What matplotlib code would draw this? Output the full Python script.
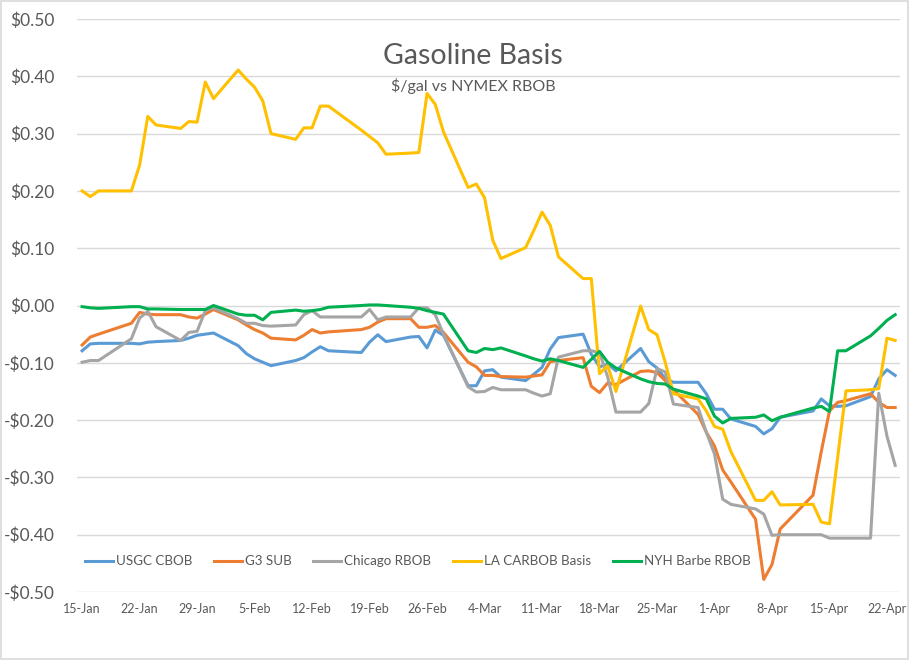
import matplotlib
matplotlib.use("Agg")
import matplotlib.pyplot as plt
from matplotlib.patches import Rectangle
import pandas as pd

plt.rcParams['font.family'] = ['Lato', 'DejaVu Sans']

# trading days, 2020
dates = pd.to_datetime([
    "2020-01-15", "2020-01-16", "2020-01-17", "2020-01-21", "2020-01-22", "2020-01-23",
    "2020-01-24", "2020-01-27", "2020-01-28", "2020-01-29", "2020-01-30", "2020-01-31",
    "2020-02-03", "2020-02-04", "2020-02-05", "2020-02-06", "2020-02-07", "2020-02-10",
    "2020-02-11", "2020-02-12", "2020-02-13", "2020-02-14", "2020-02-18", "2020-02-19",
    "2020-02-20", "2020-02-21", "2020-02-24", "2020-02-25", "2020-02-26", "2020-02-27",
    "2020-02-28", "2020-03-02", "2020-03-03", "2020-03-04", "2020-03-05", "2020-03-06",
    "2020-03-09", "2020-03-10", "2020-03-11", "2020-03-12", "2020-03-13", "2020-03-16",
    "2020-03-17", "2020-03-18", "2020-03-19", "2020-03-20", "2020-03-23", "2020-03-24",
    "2020-03-25", "2020-03-26", "2020-03-27", "2020-03-30", "2020-03-31", "2020-04-01",
    "2020-04-02", "2020-04-03", "2020-04-06", "2020-04-07", "2020-04-08", "2020-04-09",
    "2020-04-13", "2020-04-14", "2020-04-15", "2020-04-16", "2020-04-17", "2020-04-20",
    "2020-04-21", "2020-04-22", "2020-04-23",
])

usgc_cbob = [
    -0.079, -0.067, -0.066, -0.066, -0.067, -0.064, -0.063, -0.061, -0.057, -0.052, -0.050, -0.048,
    -0.070, -0.084, -0.093, -0.099, -0.105, -0.096, -0.091, -0.081, -0.072, -0.079, -0.082, -0.064,
    -0.051, -0.063, -0.055, -0.054, -0.074, -0.043, -0.052, -0.140, -0.140, -0.114, -0.112, -0.125,
    -0.131, -0.120, -0.108, -0.076, -0.056, -0.050, -0.085, -0.107, -0.102, -0.114, -0.075, -0.098,
    -0.109, -0.128, -0.134, -0.134, -0.154, -0.181, -0.181, -0.198, -0.211, -0.224, -0.215, -0.195,
    -0.184, -0.163, -0.175, -0.176, -0.175, -0.159, -0.128, -0.112, -0.122,
]
g3_sub = [
    -0.069, -0.055, -0.050, -0.031, -0.012, -0.015, -0.016, -0.016, -0.020, -0.022, -0.015, -0.007,
    -0.025, -0.034, -0.042, -0.048, -0.057, -0.060, -0.052, -0.042, -0.048, -0.046, -0.042, -0.038,
    -0.029, -0.023, -0.023, -0.038, -0.038, -0.035, -0.047, -0.099, -0.107, -0.122, -0.122, -0.124,
    -0.125, -0.123, -0.121, -0.098, -0.096, -0.091, -0.141, -0.152, -0.135, -0.138, -0.115, -0.114,
    -0.117, -0.131, -0.147, -0.190, -0.221, -0.245, -0.287, -0.308, -0.373, -0.478, -0.452, -0.390,
    -0.331, -0.255, -0.184, -0.169, -0.166, -0.154, -0.169, -0.178, -0.178,
]
chicago_rbob = [
    -0.099, -0.096, -0.096, -0.058, -0.022, -0.010, -0.037, -0.061, -0.047, -0.045, -0.009, -0.004,
    -0.023, -0.031, -0.031, -0.035, -0.036, -0.034, -0.016, -0.009, -0.020, -0.020, -0.020, -0.007,
    -0.025, -0.020, -0.020, -0.004, -0.004, -0.016, -0.050, -0.142, -0.151, -0.150, -0.143, -0.147,
    -0.147, -0.153, -0.158, -0.154, -0.090, -0.079, -0.079, -0.082, -0.125, -0.186, -0.186, -0.171,
    -0.110, -0.116, -0.172, -0.178, -0.221, -0.259, -0.338, -0.347, -0.355, -0.364, -0.401, -0.400,
    -0.400, -0.400, -0.406, -0.406, -0.406, -0.406, -0.153, -0.228, -0.279,
]
la_carbob = [
    0.200, 0.190, 0.200, 0.200, 0.245, 0.330, 0.315, 0.309, 0.321, 0.320, 0.390, 0.361,
    0.411, 0.395, 0.381, 0.357, 0.300, 0.290, 0.310, 0.310, 0.348, 0.348, 0.306, 0.295,
    0.284, 0.264, 0.266, 0.267, 0.370, 0.351, 0.303, 0.206, 0.212, 0.188, 0.114, 0.082,
    0.101, 0.131, 0.163, 0.140, 0.085, 0.047, 0.047, -0.119, -0.105, -0.150, -0.001, -0.042,
    -0.051, -0.099, -0.154, -0.163, -0.184, -0.211, -0.216, -0.255, -0.340, -0.340, -0.325, -0.348,
    -0.347, -0.378, -0.381, -0.265, -0.149, -0.147, -0.145, -0.057, -0.061,
]
nyh_barbe = [
    -0.002, -0.004, -0.005, -0.002, -0.002, -0.006, -0.006, -0.007, -0.007, -0.007, -0.007, 0.000,
    -0.015, -0.017, -0.017, -0.025, -0.012, -0.008, -0.010, -0.009, -0.007, -0.003, 0.000, 0.001,
    0.001, 0.000, -0.003, -0.005, -0.009, -0.012, -0.015, -0.079, -0.082, -0.075, -0.077, -0.074,
    -0.088, -0.093, -0.097, -0.093, -0.096, -0.108, -0.094, -0.080, -0.099, -0.109, -0.128, -0.133,
    -0.136, -0.137, -0.146, -0.158, -0.163, -0.193, -0.205, -0.197, -0.195, -0.191, -0.201, -0.195,
    -0.179, -0.176, -0.185, -0.079, -0.079, -0.053, -0.040, -0.026, -0.016,
]

series = [
    ("USGC CBOB", usgc_cbob, "#5B9BD5"),
    ("G3 SUB", g3_sub, "#ED7D31"),
    ("Chicago RBOB", chicago_rbob, "#A5A5A5"),
    ("LA CARBOB Basis", la_carbob, "#FFC000"),
    ("NYH Barbe RBOB", nyh_barbe, "#00B050"),
]

fig = plt.figure(figsize=(9.12, 6.62), dpi=100)
ax = fig.add_axes([0.0844, 0.1057, 0.9024, 0.8656])

for name, vals, col in series:
    ax.plot(dates, vals, color=col, lw=2.2, label=name, solid_joinstyle='round')

ax.set_ylim(-0.5, 0.5)
ax.set_xlim(dates[0] - pd.Timedelta(hours=15), dates[-1] + pd.Timedelta(hours=14))
yt = [i / 10 for i in range(-5, 6)]
ax.set_yticks(yt)
ax.set_yticklabels([f"-${abs(v):.2f}" if v < -1e-9 else f"${v:.2f}" for v in yt])
xt = pd.date_range("2020-01-15", "2020-04-22", freq="7D")
ax.set_xticks(xt)
ax.set_xticklabels([f"{d.day}-{d.strftime('%b')}" for d in xt])

ax.grid(axis='y', color='#D9D9D9', lw=1)
ax.set_axisbelow(True)
for s in ax.spines.values():
    s.set_visible(False)
ax.tick_params(length=0, colors='#595959')
ax.tick_params(axis='y', labelsize=12.5, pad=16)
ax.tick_params(axis='x', labelsize=9, pad=8)

fig.text(0.519, 0.916, "Gasoline Basis", ha='center', va='center', fontsize=20.5,
         color='#595959')
fig.text(0.519, 0.870, "$/gal vs NYMEX RBOB", ha='center', va='center', fontsize=11.5,
         color='#595959')

fig.legend(loc='center', bbox_to_anchor=(0.458, 0.152), ncol=5, frameon=False,
           fontsize=9.6, handlelength=2.1, columnspacing=1.65, handletextpad=0.2,
           labelcolor='#595959')

fig.patches.append(Rectangle((0.001, 0.004), 0.9945, 0.995, transform=fig.transFigure,
                             fill=False, edgecolor='#D9D9D9', lw=1.2))

fig.savefig("out.png", dpi=100)
